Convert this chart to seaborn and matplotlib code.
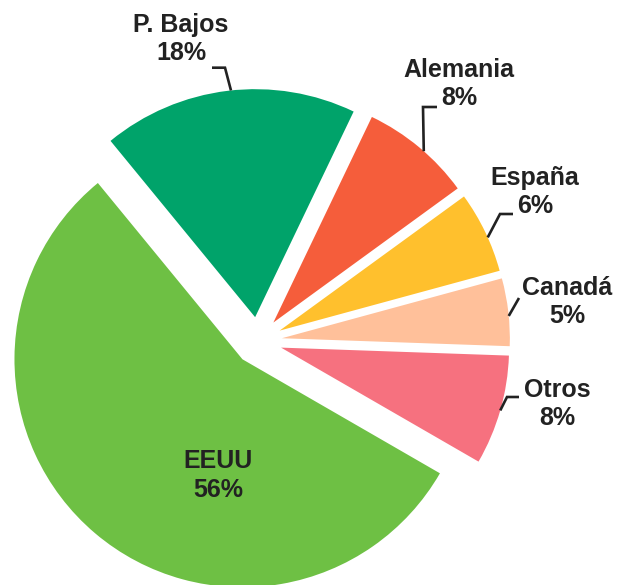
import matplotlib
matplotlib.use("Agg")
import matplotlib.pyplot as plt
import seaborn as sns
import numpy as np

# ---- data (shares; labels as printed) ----
categories = ["EEUU", "P. Bajos", "Alemania", "España", "Canadá", "Otros"]
values = [55.9, 18.1, 7.9, 5.8, 4.8, 7.8]
pct_labels = ["56%", "18%", "8%", "6%", "5%", "8%"]
colors = ["#6EC044", "#00A36A", "#F55D3B", "#FFC02D", "#FFC09A", "#F6717F"]

sns.set_style("white")
plt.rcParams["font.family"] = ["Liberation Sans", "DejaVu Sans"]

W, H, DPI = 617, 585, 100
fig = plt.figure(figsize=(W / DPI, H / DPI), dpi=DPI)
ax = fig.add_axes([0, 0, 1, 1])

# pixel -> data mapping (radius 1 == SCALE px, pie centre at CX, CY)
SCALE, CX, CY = 228.0, 258.0, 341.0
def px(x, y):
    return ((x - CX) / SCALE, (CY - y) / SCALE)

explode = [24 / SCALE] * len(values)
wedges, _ = ax.pie(values, colors=colors, startangle=-30, counterclock=False,
                   explode=explode, radius=1.0,
                   wedgeprops=dict(linewidth=0))

ax.set_xlim(-CX / SCALE, (W - CX) / SCALE)
ax.set_ylim(-(H - CY) / SCALE, CY / SCALE)
ax.set_aspect("equal")
ax.axis("off")

txt_color = "#222222"
fs = 18

# label layout in pixel coordinates: (centre_x, name_baseline, pct_baseline)
label_pos = {
    "EEUU": (218, 468, 497),
    "P. Bajos": (181, 32, 60),
    "Alemania": (459, 77, 105),
    "España": (535, 185, 213),
    "Canadá": (567, 295, 323),
    "Otros": (557, 397, 425),
}
# leader: (angle offset from wedge mid, list of further pixel points)
leaders = {
    "P. Bajos": (-0.8, [(225, 67.7), (212, 67.7)]),
    "Alemania": (-1.5, [(423, 107), (437, 107)]),
    "España": (-1.5, [(500, 214), (513, 214)]),
    "Canadá": (-1.0, [(519, 298)]),
    "Otros": (0.0, [(507, 397), (519, 397)]),
}

for w, cat, pct in zip(wedges, categories, pct_labels):
    x, yb1, yb2 = label_pos[cat]
    dx, _ = px(x, 0)
    _, y1 = px(0, yb1)
    _, y2 = px(0, yb2)
    ax.text(dx, y1, cat, ha="center", va="baseline", fontsize=fs,
            fontweight="bold", color=txt_color)
    ax.text(dx, y2, pct, ha="center", va="baseline", fontsize=fs,
            fontweight="bold", color=txt_color)
    if cat in leaders:
        off, pts = leaders[cat]
        mid = np.deg2rad((w.theta1 + w.theta2) / 2 + off)
        cx, cy = w.center
        r = w.r
        xs = [cx + r * np.cos(mid)]
        ys = [cy + r * np.sin(mid)]
        for p in pts:
            a, b = px(*p)
            xs.append(a)
            ys.append(b)
        ax.plot(xs, ys, color=txt_color, linewidth=1.9,
                solid_joinstyle="miter", solid_capstyle="butt")

fig.savefig("out.png", dpi=DPI)
